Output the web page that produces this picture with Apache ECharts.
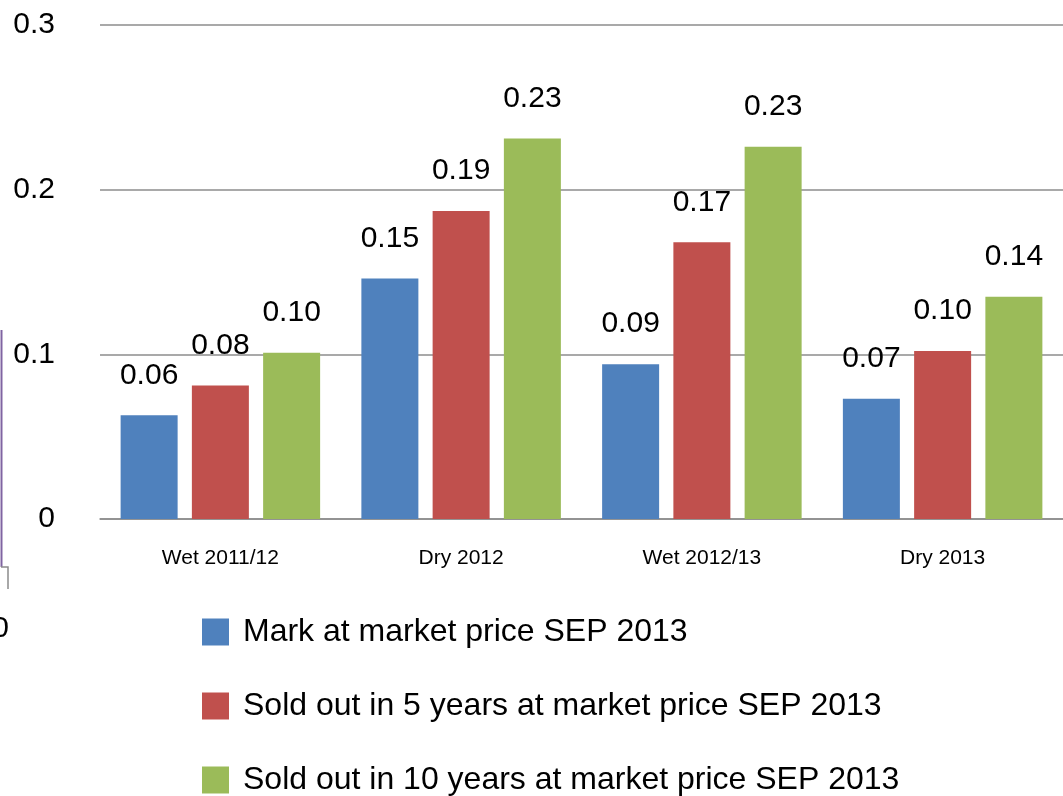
<!DOCTYPE html>
<html>
<head>
<meta charset="utf-8">
<script src="https://cdn.jsdelivr.net/npm/echarts@6/dist/echarts.min.js"></script>
<style>
html,body{margin:0;padding:0;background:#fff;}
#chart{width:1063px;height:796px;}
</style>
</head>
<body>
<div id="chart"></div>
<script>
var categories = ['Wet 2011/12', 'Dry 2012', 'Wet 2012/13', 'Dry 2013'];
var seriesNames = [
  'Mark at market price SEP 2013',
  'Sold out in 5 years at market price SEP 2013',
  'Sold out in 10 years at market price SEP 2013'
];
var markValues = [0.063, 0.146, 0.094, 0.073];
var sold5Values = [0.081, 0.187, 0.168, 0.102];
var sold10Values = [0.101, 0.231, 0.226, 0.135];
var colors = ['#4F81BD', '#C0504D', '#9BBB59'];

var FONT = '"Liberation Sans", Arial, sans-serif';

function barSeries(name, data, color) {
  return {
    name: name,
    type: 'bar',
    data: data,
    barWidth: 57,
    barGap: '25%',
    itemStyle: { color: color },
    label: {
      show: true,
      position: 'top',
      distance: 25,
      color: '#000',
      fontFamily: FONT,
      fontSize: 30,
      formatter: function (p) { return p.value.toFixed(2); }
    }
  };
}

var chart = echarts.init(document.getElementById('chart'), null, { renderer: 'canvas' });
chart.setOption({
  backgroundColor: '#fff',
  animation: false,
  textStyle: { fontFamily: FONT },
  grid: { left: 100, right: 0, top: 25, bottom: 277, containLabel: false },
  legend: {
    orient: 'vertical',
    left: 202,
    top: 616,
    height: 240,
    padding: 0,
    itemWidth: 27,
    itemHeight: 27,
    itemGap: 42,
    icon: 'rect',
    textStyle: { fontFamily: FONT, fontSize: 32, color: '#000', padding: [0, 0, 0, 9] },
    data: seriesNames
  },
  xAxis: {
    type: 'category',
    data: categories,
    axisTick: { show: false },
    axisLine: { show: true, lineStyle: { color: '#8c8c8c', width: 1.5 } },
    axisLabel: { fontFamily: FONT, fontSize: 21, color: '#000', margin: 29 }
  },
  yAxis: {
    type: 'value',
    min: 0,
    max: 0.3,
    interval: 0.1,
    axisLine: { show: false },
    axisTick: { show: false },
    splitLine: { lineStyle: { color: '#8c8c8c', width: 1.5 } },
    axisLabel: {
      fontFamily: FONT, fontSize: 30, color: '#000', margin: 45,
      formatter: function (v) { return v === 0 ? '0' : v.toFixed(1); }
    }
  },
  graphic: [
    { type: 'line', shape: { x1: 1.5, y1: 330, x2: 1.5, y2: 567 }, style: { stroke: '#8064A2', lineWidth: 2 } },
    { type: 'polyline', shape: { points: [[1, 567], [8, 567], [8, 589]] }, style: { stroke: '#8c8c8c', lineWidth: 1.5, fill: null } },
    { type: 'text', x: 9, y: 629, style: { text: '0', font: '30px ' + FONT, fill: '#000', align: 'right', verticalAlign: 'middle' } }
  ],
  series: [
    barSeries(seriesNames[0], markValues, colors[0]),
    barSeries(seriesNames[1], sold5Values, colors[1]),
    barSeries(seriesNames[2], sold10Values, colors[2])
  ]
});
</script>
</body>
</html>
